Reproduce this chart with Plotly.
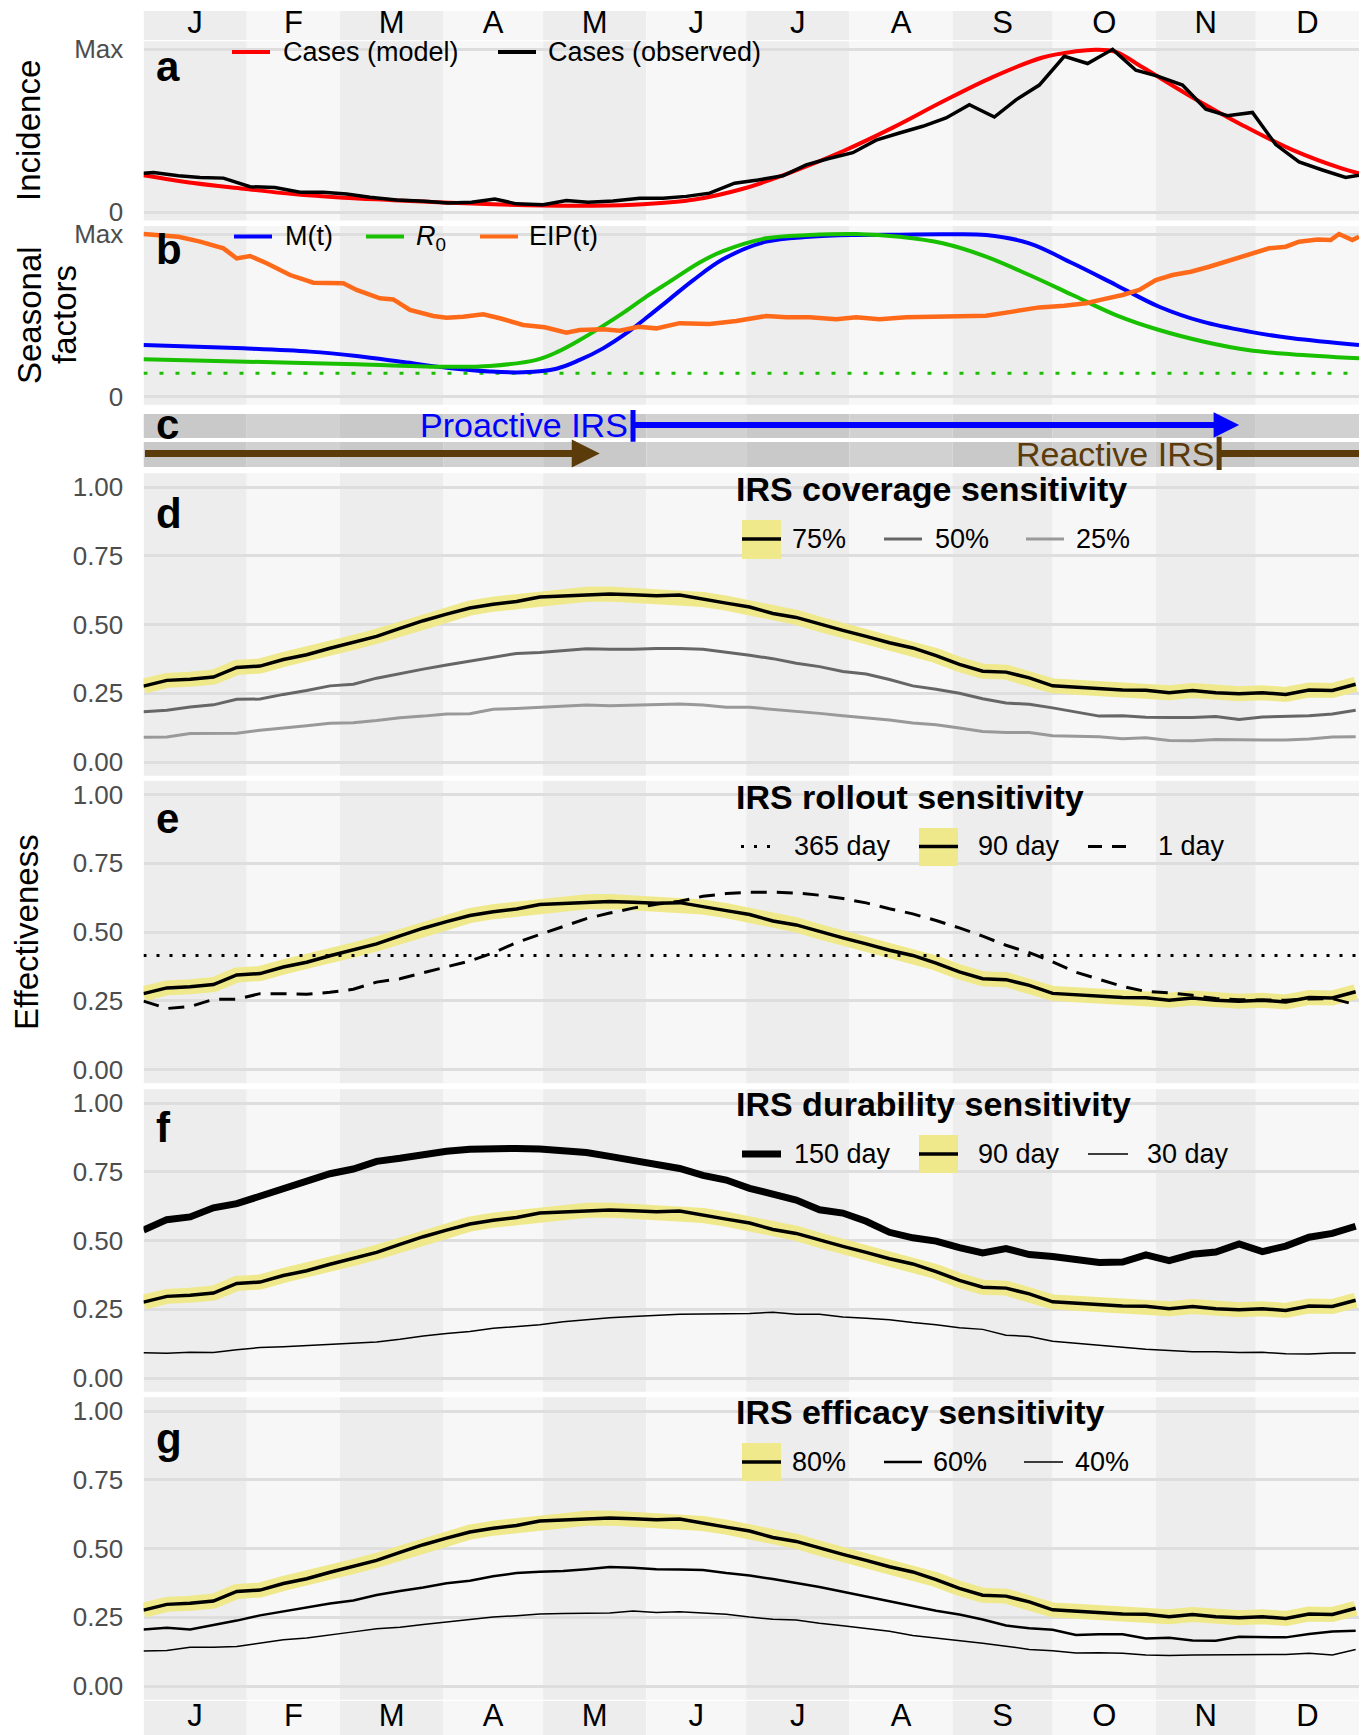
import plotly.graph_objects as go

# ------------------------------------------------------------------ data
month_edges = [0, 31, 59, 90, 120, 151, 181, 212, 243, 273, 304, 334, 365]
month_letters = ["J", "F", "M", "A", "M", "J", "J", "A", "S", "O", "N", "D"]

# (a) incidence, scaled to the annual maximum
obs_day = [0, 3, 10.5, 17, 24, 32, 39.5, 47, 54, 61, 68, 76, 84.5, 91.5, 98.5,
           105.5, 112, 120, 127, 133.5, 141, 149, 156, 163, 170, 177.5, 184.5,
           192, 199, 205.5, 213, 220, 227, 234, 241, 248, 255.5, 262, 269, 276.5,
           283.5, 291, 298, 304.5, 312, 319, 325.5, 333, 340, 347, 354, 361, 365]
obs_cases = [0.240, 0.244, 0.224, 0.214, 0.210, 0.157, 0.153, 0.123, 0.123, 0.112,
             0.092, 0.076, 0.068, 0.058, 0.062, 0.082, 0.052, 0.047, 0.072, 0.062,
             0.070, 0.086, 0.086, 0.098, 0.118, 0.179, 0.199, 0.224, 0.291, 0.329,
             0.366, 0.443, 0.487, 0.528, 0.579, 0.660, 0.585, 0.690, 0.781, 0.957,
             0.913, 1.000, 0.872, 0.836, 0.781, 0.633, 0.593, 0.613, 0.416, 0.309,
             0.260, 0.214, 0.228]
model_day = [0, 15, 30, 45, 60, 75, 90, 105, 120, 135, 150, 165, 180, 195, 210,
             225, 240, 255, 270, 280, 286, 292, 300, 315, 330, 345, 360, 365]
model_cases = [0.228, 0.180, 0.145, 0.112, 0.090, 0.075, 0.060, 0.049, 0.042, 0.041,
               0.050, 0.077, 0.145, 0.250, 0.375, 0.520, 0.680, 0.830, 0.950, 0.988,
               0.998, 0.985, 0.890, 0.705, 0.535, 0.383, 0.268, 0.240]

# (b) seasonal drivers, scaled to their maxima
mt_day = [0, 30, 50, 64, 78, 91, 104, 114, 124, 131, 138, 145, 151, 158, 165, 174,
          187, 200, 214, 227, 240, 253, 266, 279, 292, 305, 318, 332, 345, 365]
mt_val = [0.318, 0.297, 0.277, 0.250, 0.213, 0.178, 0.155, 0.150, 0.172, 0.226,
          0.297, 0.390, 0.485, 0.600, 0.715, 0.845, 0.953, 0.983, 0.994, 0.996,
          0.998, 0.994, 0.943, 0.820, 0.687, 0.553, 0.461, 0.400, 0.359, 0.318]
r0_day = [0, 31, 64, 91, 104, 118, 124.5, 131, 138, 144.6, 151, 158, 167, 174, 187,
          200, 214, 227, 240, 253, 266, 279, 292, 305, 318.5, 331.6, 344.7, 365]
r0_val = [0.230, 0.215, 0.199, 0.184, 0.189, 0.226, 0.277, 0.348, 0.435, 0.523,
          0.615, 0.707, 0.825, 0.895, 0.974, 0.994, 1.000, 0.983, 0.943, 0.861,
          0.748, 0.625, 0.502, 0.410, 0.338, 0.287, 0.261, 0.236]
r0_threshold = 0.144
eip_day = [0, 5, 10.5, 17, 24, 28, 32, 37, 44, 51, 60, 64, 71, 75, 80, 87, 91, 96,
           102, 107, 114, 120.5, 127, 131, 138, 143, 148.6, 154, 161, 170, 178, 187,
           193, 200, 208, 214, 221, 229, 240, 253, 261, 269, 276.5, 283, 288, 294,
           299, 304, 309, 314.5, 320, 325, 330, 334, 338, 343, 347, 352.6, 356.5,
           359, 363, 365]
eip_val = [1.0, 0.994, 0.983, 0.953, 0.912, 0.850, 0.865, 0.820, 0.748, 0.701,
           0.697, 0.656, 0.605, 0.598, 0.533, 0.496, 0.486, 0.492, 0.506, 0.482,
           0.441, 0.427, 0.393, 0.410, 0.414, 0.406, 0.430, 0.420, 0.452, 0.447,
           0.465, 0.496, 0.488, 0.488, 0.476, 0.488, 0.476, 0.488, 0.492, 0.498,
           0.523, 0.549, 0.559, 0.574, 0.598, 0.625, 0.656, 0.717, 0.748, 0.768,
           0.799, 0.830, 0.861, 0.891, 0.912, 0.922, 0.953, 0.967, 0.963, 1.0,
           0.963, 0.983]

# (c) IRS campaign windows, day of year
proactive_start, proactive_end = 147, 329
reactive_start, reactive_end = 323, 137

# (d-g) IRS effectiveness on weekly time points
week_day = list(range(0, 365, 7))
# reference scenario: 75% coverage, 90 day rollout, 90 day durability, 80% efficacy
baseline = [0.276, 0.297, 0.301, 0.309, 0.344, 0.349, 0.373, 0.390, 0.414, 0.435,
            0.457, 0.486, 0.514, 0.538, 0.560, 0.574, 0.584, 0.600, 0.604, 0.610,
            0.611, 0.608, 0.605, 0.607, 0.591, 0.578, 0.564, 0.540, 0.526, 0.501,
            0.479, 0.457, 0.434, 0.415, 0.387, 0.355, 0.330, 0.327, 0.306, 0.277,
            0.272, 0.266, 0.262, 0.261, 0.252, 0.260, 0.252, 0.248, 0.252, 0.246,
            0.262, 0.260, 0.283]
cover_50 = [0.183, 0.188, 0.200, 0.208, 0.228, 0.229, 0.246, 0.260, 0.277, 0.283,
            0.305, 0.322, 0.338, 0.353, 0.367, 0.380, 0.395, 0.398, 0.405, 0.412,
            0.410, 0.410, 0.413, 0.413, 0.410, 0.400, 0.388, 0.376, 0.359, 0.347,
            0.329, 0.320, 0.300, 0.277, 0.265, 0.250, 0.230, 0.215, 0.210, 0.197,
            0.182, 0.167, 0.168, 0.163, 0.162, 0.162, 0.166, 0.155, 0.164, 0.165,
            0.168, 0.175, 0.188]
cover_25 = [0.090, 0.091, 0.104, 0.104, 0.105, 0.116, 0.123, 0.132, 0.141, 0.143,
            0.151, 0.161, 0.167, 0.175, 0.176, 0.192, 0.195, 0.199, 0.201, 0.207,
            0.205, 0.207, 0.210, 0.211, 0.207, 0.199, 0.199, 0.192, 0.183, 0.177,
            0.168, 0.160, 0.153, 0.142, 0.136, 0.124, 0.111, 0.107, 0.107, 0.096,
            0.095, 0.092, 0.085, 0.088, 0.078, 0.077, 0.082, 0.080, 0.080, 0.080,
            0.084, 0.091, 0.092]
rollout_365 = 0.415
rollout_1 = [0.249, 0.222, 0.229, 0.255, 0.256, 0.276, 0.276, 0.274, 0.281, 0.292,
             0.318, 0.330, 0.352, 0.373, 0.395, 0.424, 0.462, 0.491, 0.519, 0.549,
             0.569, 0.587, 0.601, 0.612, 0.630, 0.640, 0.645, 0.645, 0.642, 0.634,
             0.622, 0.606, 0.585, 0.566, 0.542, 0.515, 0.485, 0.452, 0.425, 0.392,
             0.354, 0.328, 0.302, 0.284, 0.279, 0.270, 0.258, 0.254, 0.252, 0.252,
             0.257, 0.258, 0.236]
durab_150 = [0.538, 0.576, 0.586, 0.619, 0.634, 0.661, 0.683, 0.715, 0.743, 0.760,
             0.788, 0.799, 0.815, 0.825, 0.832, 0.835, 0.835, 0.833, 0.829, 0.820,
             0.806, 0.792, 0.774, 0.762, 0.737, 0.720, 0.690, 0.670, 0.647, 0.612,
             0.600, 0.570, 0.530, 0.510, 0.498, 0.474, 0.455, 0.471, 0.449, 0.442,
             0.430, 0.420, 0.422, 0.448, 0.427, 0.450, 0.458, 0.488, 0.460, 0.480,
             0.512, 0.526, 0.552]
durab_30 = [0.092, 0.090, 0.094, 0.093, 0.103, 0.111, 0.114, 0.118, 0.124, 0.128,
            0.131, 0.141, 0.153, 0.162, 0.169, 0.181, 0.187, 0.194, 0.205, 0.213,
            0.219, 0.224, 0.229, 0.232, 0.233, 0.233, 0.235, 0.239, 0.232, 0.232,
            0.222, 0.217, 0.212, 0.202, 0.194, 0.183, 0.177, 0.156, 0.151, 0.134,
            0.127, 0.119, 0.111, 0.105, 0.100, 0.096, 0.096, 0.093, 0.094, 0.088,
            0.087, 0.091, 0.091]
effic_60 = [0.206, 0.212, 0.206, 0.222, 0.238, 0.257, 0.271, 0.285, 0.300, 0.311,
            0.331, 0.346, 0.358, 0.374, 0.383, 0.399, 0.411, 0.416, 0.418, 0.425,
            0.433, 0.430, 0.425, 0.424, 0.422, 0.411, 0.402, 0.389, 0.375, 0.360,
            0.343, 0.326, 0.309, 0.291, 0.274, 0.260, 0.242, 0.220, 0.210, 0.205,
            0.186, 0.188, 0.188, 0.173, 0.176, 0.166, 0.165, 0.179, 0.179, 0.177,
            0.189, 0.198, 0.201]
effic_40 = [0.127, 0.129, 0.141, 0.141, 0.144, 0.155, 0.168, 0.175, 0.187, 0.197,
            0.208, 0.214, 0.224, 0.233, 0.242, 0.251, 0.256, 0.262, 0.264, 0.266,
            0.266, 0.273, 0.267, 0.270, 0.266, 0.261, 0.251, 0.243, 0.240, 0.228,
            0.219, 0.210, 0.199, 0.184, 0.175, 0.167, 0.156, 0.145, 0.133, 0.128,
            0.120, 0.121, 0.119, 0.113, 0.111, 0.113, 0.113, 0.113, 0.113, 0.115,
            0.119, 0.113, 0.133]

# ------------------------------------------------------------------ styling
W, H = 1361, 1735
FONT = "Liberation Sans, Arial, sans-serif"
X_LEFT, X_RIGHT = 143.5, 1359.0
BAND_DARK, BAND_LIGHT = "#ededed", "#f7f7f7"
STRIP_DARK, STRIP_LIGHT = "#c9c9c9", "#d1d1d1"
GRID = "#dedede"
YELLOW = "#efe98b"
BROWN = "#5c3b0b"
BLUE, GREEN, ORANGE, RED = "#0000ff", "#19c000", "#ff6a1a", "#ff0000"
BASE_W, HALO_W = 3.5, 15


def fy(p):
    return 1 - p / H


def fx(p):
    return p / W


# panel rows in pixel coordinates (top, bottom)
rows = [("top", 11, 40), ("a", 41.2, 220.5), ("b", 225.9, 404.8), ("c", 410, 470),
        ("d", 473.3, 775.8), ("e", 780.8, 1083.3), ("f", 1089.3, 1391.8),
        ("g", 1397.3, 1699.8), ("bot", 1701, 1735)]

yref = {}
layout_axes = {}
for i, (name, top, bot) in enumerate(rows):
    key = "yaxis" if i == 0 else f"yaxis{i + 1}"
    yref[name] = "y" if i == 0 else f"y{i + 1}"
    cfg = dict(domain=[fy(bot), fy(top)], anchor="x", zeroline=False,
               showline=False, fixedrange=True)
    if name in ("top", "bot"):
        cfg.update(range=[0, 1], showgrid=False, showticklabels=False)
    elif name == "c":
        cfg.update(range=[0, 2], showgrid=False, showticklabels=False)
    else:
        if name in ("a", "b"):
            cfg.update(tickvals=[0, 1], ticktext=["0", "Max"])
        else:
            cfg.update(tickvals=[0, 0.25, 0.5, 0.75, 1],
                       ticktext=["0.00", "0.25", "0.50", "0.75", "1.00"])
        cfg.update(range=[-0.05, 1.05], showgrid=True, gridcolor=GRID, gridwidth=2.6,
                   ticks="outside", ticklen=14, tickwidth=1,
                   tickcolor="rgba(0,0,0,0)",
                   tickfont=dict(family=FONT, size=26, color="#4d4d4d"))
    layout_axes[key] = cfg

fig = go.Figure()


def add_line(x, y, panel, color, width, dash=None, shape="linear"):
    fig.add_trace(go.Scatter(
        x=x, y=y, xaxis="x", yaxis=yref[panel], mode="lines",
        line=dict(color=color, width=width, dash=dash, shape=shape, smoothing=1.0),
        hoverinfo="skip", showlegend=False))


# month letter strips
month_mid = [(month_edges[m] + month_edges[m + 1]) / 2 for m in range(12)]
for panel in ("top", "bot"):
    fig.add_trace(go.Scatter(
        x=month_mid, y=[0.5] * 12, xaxis="x", yaxis=yref[panel], mode="text",
        text=month_letters, textposition="middle center",
        textfont=dict(family=FONT, size=31, color="black"),
        hoverinfo="skip", showlegend=False))

# (a) incidence
add_line(model_day, model_cases, "a", RED, 4, shape="spline")
add_line(obs_day, obs_cases, "a", "black", 3.5)

# (b) seasonal factors
add_line([month_edges[0], month_edges[-1]], [r0_threshold, r0_threshold], "b",
         GREEN, 3, dash="4px,12px")
add_line(mt_day, mt_val, "b", BLUE, 4, shape="spline")
add_line(r0_day, r0_val, "b", GREEN, 4, shape="spline")
add_line(eip_day, eip_val, "b", ORANGE, 4.5)

# (c) IRS campaigns
PRO_Y, REA_Y = 1.5, 0.55
fig.add_trace(go.Scatter(
    x=[proactive_start], y=[PRO_Y], xaxis="x", yaxis=yref["c"], mode="markers",
    marker=dict(symbol="line-ns", size=24, line=dict(width=5, color=BLUE)),
    hoverinfo="skip", showlegend=False))
add_line([reactive_start, month_edges[-1]], [REA_Y, REA_Y], "c", BROWN, 7)
fig.add_trace(go.Scatter(
    x=[reactive_start], y=[REA_Y], xaxis="x", yaxis=yref["c"], mode="markers",
    marker=dict(symbol="line-ns", size=24, line=dict(width=5, color=BROWN)),
    hoverinfo="skip", showlegend=False))

# (d) coverage
add_line(week_day, baseline, "d", YELLOW, HALO_W)
add_line(week_day, cover_25, "d", "#999999", 3)
add_line(week_day, cover_50, "d", "#666666", 3)
add_line(week_day, baseline, "d", "black", BASE_W)

# (e) rollout
add_line(week_day, baseline, "e", YELLOW, HALO_W)
add_line([month_edges[0], month_edges[-1]], [rollout_365, rollout_365], "e",
         "black", 3, dash="3px,10px")
add_line(week_day, rollout_1, "e", "black", 3, dash="16px,10px")
add_line(week_day, baseline, "e", "black", BASE_W)

# (f) durability
add_line(week_day, baseline, "f", YELLOW, HALO_W)
add_line(week_day, durab_150, "f", "black", 7)
add_line(week_day, durab_30, "f", "black", 1.5)
add_line(week_day, baseline, "f", "black", BASE_W)

# (g) efficacy
add_line(week_day, baseline, "g", YELLOW, HALO_W)
add_line(week_day, effic_60, "g", "black", 2.5)
add_line(week_day, effic_40, "g", "black", 1.5)
add_line(week_day, baseline, "g", "black", BASE_W)

# ------------------------------------------------------------------ shapes
shapes = []
for panel in ("top", "a", "b", "d", "e", "f", "g", "bot"):
    for m in range(12):
        shapes.append(dict(type="rect", xref="x", yref=f"{yref[panel]} domain",
                           x0=month_edges[m], x1=month_edges[m + 1], y0=0, y1=1,
                           fillcolor=BAND_DARK if m % 2 == 0 else BAND_LIGHT,
                           line_width=0, layer="below"))
for y0, y1 in [(1.07, 1.87), (0.1, 0.93)]:
    for m in range(12):
        shapes.append(dict(type="rect", xref="x", yref=yref["c"],
                           x0=month_edges[m], x1=month_edges[m + 1], y0=y0, y1=y1,
                           fillcolor=STRIP_DARK if m % 2 == 0 else STRIP_LIGHT,
                           line_width=0, layer="below"))

annotations = []


def text(x, y, s, size=27, color="black", bold=False, anchor="left", angle=0):
    annotations.append(dict(
        x=fx(x), y=fy(y), xref="paper", yref="paper", text=f"<b>{s}</b>" if bold else s,
        showarrow=False, xanchor=anchor, yanchor="middle", textangle=angle,
        font=dict(family=FONT, size=size, color=color)))


def key_line(x0, x1, y, color, width, dash=None):
    shapes.append(dict(type="line", xref="paper", yref="paper",
                       x0=fx(x0), x1=fx(x1), y0=fy(y), y1=fy(y),
                       line=dict(color=color, width=width, dash=dash)))


def key_box(x0, x1, y0, y1):
    shapes.append(dict(type="rect", xref="paper", yref="paper",
                       x0=fx(x0), x1=fx(x1), y0=fy(y1), y1=fy(y0),
                       fillcolor=YELLOW, line_width=0))


# arrows for panel c
annotations.append(dict(x=proactive_end, y=PRO_Y, xref="x", yref=yref["c"],
                        ax=proactive_start, ay=PRO_Y, axref="x", ayref=yref["c"],
                        showarrow=True, arrowhead=2, arrowsize=0.85, arrowwidth=6,
                        arrowcolor=BLUE, text=""))
annotations.append(dict(x=reactive_end, y=REA_Y, xref="x", yref=yref["c"],
                        ax=month_edges[0], ay=REA_Y, axref="x", ayref=yref["c"],
                        showarrow=True, arrowhead=2, arrowsize=0.8, arrowwidth=7,
                        arrowcolor=BROWN, text=""))
annotations.append(dict(x=proactive_start, y=PRO_Y, xref="x", yref=yref["c"],
                        text="Proactive IRS", showarrow=False, xanchor="right",
                        yanchor="middle", xshift=-3,
                        font=dict(family=FONT, size=34, color=BLUE)))
annotations.append(dict(x=reactive_start, y=REA_Y, xref="x", yref=yref["c"],
                        text="Reactive IRS", showarrow=False, xanchor="right",
                        yanchor="middle", xshift=-3,
                        font=dict(family=FONT, size=34, color=BROWN)))

# panel letters
for letter, yc in [("a", 66), ("b", 250), ("c", 425), ("d", 513), ("e", 818),
                   ("f", 1127), ("g", 1438)]:
    text(154, yc, letter, size=42, bold=True)

# axis titles
text(28, 131, "Incidence", size=33, angle=-90, anchor="center")
text(30, 315, "Seasonal", size=33, angle=-90, anchor="center")
text(65, 315, "factors", size=33, angle=-90, anchor="center")
text(26, 932, "Effectiveness", size=33, angle=-90, anchor="center")

# legend (a)
key_line(232, 270, 52, RED, 4)
text(281, 52, "Cases (model)")
key_line(498, 536, 52, "black", 4)
text(546, 52, "Cases (observed)")

# legend (b)
key_line(234, 272, 236.5, BLUE, 4)
text(283, 236, "M(t)")
key_line(366, 404, 236.5, GREEN, 4)
text(414, 238, "<i>R</i><sub>0</sub>")
key_line(480, 518, 236.5, ORANGE, 4)
text(527, 236, "EIP(t)")

# legend (d)
text(734, 489, "IRS coverage sensitivity", size=34, bold=True)
key_box(742, 781, 520, 559)
key_line(742, 781, 539, "black", BASE_W)
text(790, 539, "75%")
key_line(884, 922, 539, "#666666", 3)
text(933, 539, "50%")
key_line(1026, 1064, 539, "#999999", 3)
text(1074, 539, "25%")

# legend (e)
text(734, 797, "IRS rollout sensitivity", size=34, bold=True)
key_line(741, 779, 846.5, "black", 3, dash="3px,10px")
text(792, 846, "365 day")
key_box(919, 958, 828, 866)
key_line(919, 958, 846.5, "black", BASE_W)
text(976, 846, "90 day")
key_line(1088, 1128, 846.5, "black", 3, dash="14px,10px")
text(1156, 846, "1 day")

# legend (f)
text(734, 1104, "IRS durability sensitivity", size=34, bold=True)
key_line(742, 781, 1154, "black", 7)
text(792, 1154, "150 day")
key_box(919, 958, 1135, 1173)
key_line(919, 958, 1154, "black", BASE_W)
text(976, 1154, "90 day")
key_line(1088, 1128, 1154, "black", 1.5)
text(1145, 1154, "30 day")

# legend (g)
text(734, 1412, "IRS efficacy sensitivity", size=34, bold=True)
key_box(742, 781, 1443, 1481)
key_line(742, 781, 1462, "black", BASE_W)
text(790, 1462, "80%")
key_line(884, 922, 1462, "black", 2.5)
text(931, 1462, "60%")
key_line(1024, 1063, 1462, "black", 1.5)
text(1073, 1462, "40%")

fig.update_layout(
    width=W, height=H,
    margin=dict(l=0, r=0, t=0, b=0, pad=0, autoexpand=False),
    paper_bgcolor="white", plot_bgcolor="white", showlegend=False,
    xaxis=dict(domain=[fx(X_LEFT), fx(X_RIGHT)], range=[month_edges[0], month_edges[-1]],
               visible=False, fixedrange=True),
    shapes=shapes, annotations=annotations, **layout_axes)

fig.write_html("out.html")
